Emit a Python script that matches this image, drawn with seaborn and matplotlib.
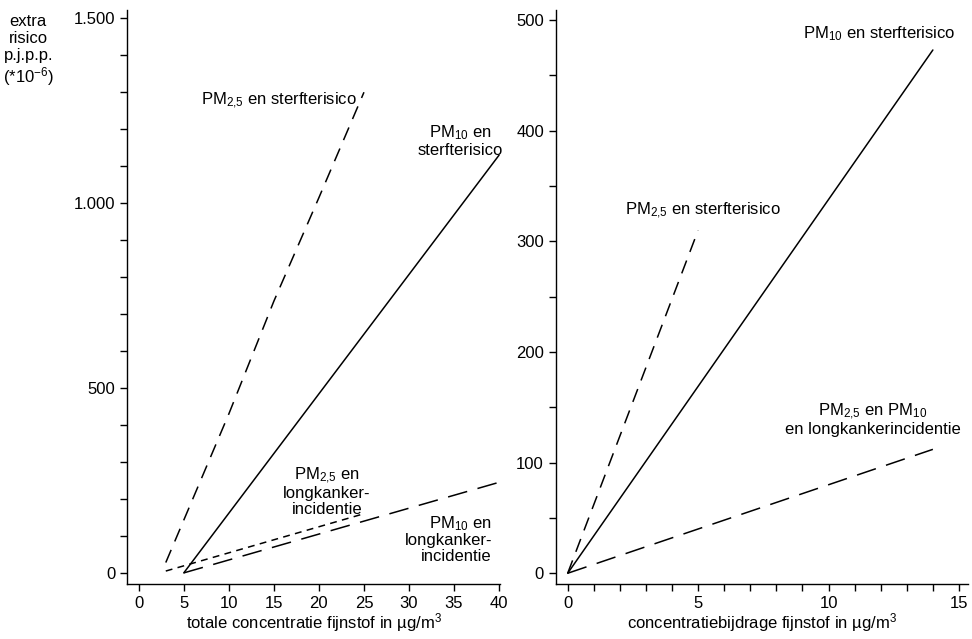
import pandas as pd
import seaborn as sns
import matplotlib.pyplot as plt
from matplotlib.ticker import FuncFormatter, MultipleLocator

# left panel: total concentration (ug/m3) vs extra risk
pm25_mort_x = [3, 10, 15, 20, 25]
pm25_mort_y = [28, 430, 735, 1015, 1300]
pm10_mort_x = [5, 40]
pm10_mort_y = [0, 1130]
pm25_lung_x = [3, 25]
pm25_lung_y = [5, 160]
pm10_lung_x = [5, 40]
pm10_lung_y = [0, 245]

# right panel: concentration contribution vs extra risk
r_pm10_mort_x = [0, 14]
r_pm10_mort_y = [0, 473]
r_pm25_mort_x = [0, 5]
r_pm25_mort_y = [0, 310]
r_lung_x = [0, 14]
r_lung_y = [0, 112]

FONT = ['Liberation Sans Narrow', 'Liberation Sans', 'DejaVu Sans']

sns.set_style("ticks")
plt.rcParams['font.family'] = FONT
plt.rcParams['mathtext.fontset'] = 'custom'
plt.rcParams['mathtext.rm'] = 'Liberation Sans'
plt.rcParams['mathtext.default'] = 'regular'
plt.rcParams['text.color'] = 'black'
plt.rcParams['axes.labelcolor'] = 'black'
plt.rcParams['axes.edgecolor'] = 'black'
plt.rcParams['axes.linewidth'] = 1.0
plt.rcParams['xtick.major.size'] = 5
plt.rcParams['ytick.major.size'] = 5
plt.rcParams['xtick.minor.size'] = 5
plt.rcParams['ytick.minor.size'] = 5


def dotted_thousands(x, _):
    return f'{int(round(x)):,}'.replace(',', '.')


fig = plt.figure(figsize=(9.72, 6.39), dpi=100)
ax1 = fig.add_axes([0.1307, 0.0861, 0.3837, 0.898])
ax2 = fig.add_axes([0.5717, 0.0861, 0.4240, 0.898])

lw = 1.1
sns.lineplot(x=pm25_mort_x, y=pm25_mort_y, ax=ax1, color='black', lw=lw)
ax1.lines[-1].set_dashes([9, 6])
sns.lineplot(x=pm10_mort_x, y=pm10_mort_y, ax=ax1, color='black', lw=lw)
sns.lineplot(x=pm25_lung_x, y=pm25_lung_y, ax=ax1, color='black', lw=lw)
ax1.lines[-1].set_dashes([4.5, 3.5])
sns.lineplot(x=pm10_lung_x, y=pm10_lung_y, ax=ax1, color='black', lw=lw)
ax1.lines[-1].set_dashes([13, 7])

sns.lineplot(x=r_pm10_mort_x, y=r_pm10_mort_y, ax=ax2, color='black', lw=lw)
sns.lineplot(x=r_pm25_mort_x, y=r_pm25_mort_y, ax=ax2, color='black', lw=lw)
ax2.lines[-1].set_dashes([9, 6])
sns.lineplot(x=r_lung_x, y=r_lung_y, ax=ax2, color='black', lw=lw)
ax2.lines[-1].set_dashes([13, 7])

fs = 12
for ax in (ax1, ax2):
    sns.despine(ax=ax)
    ax.tick_params(which='both', labelsize=fs, width=1.0, colors='black')
    ax.set_facecolor('white')

ax1.set_xlim(-1.3, 40.1)
ax1.set_ylim(-30, 1522)
ax1.xaxis.set_major_locator(MultipleLocator(5))
ax1.yaxis.set_major_locator(MultipleLocator(500))
ax1.yaxis.set_minor_locator(MultipleLocator(100))
ax1.yaxis.set_major_formatter(FuncFormatter(dotted_thousands))
ax1.set_xlabel('totale concentratie fijnstof in µg/m$^{3}$', fontsize=fs, labelpad=0)
ax1.set_ylabel('')

ax2.set_xlim(-0.46, 15.34)
ax2.set_ylim(-9.7, 509)
ax2.xaxis.set_major_locator(MultipleLocator(5))
ax2.xaxis.set_minor_locator(MultipleLocator(1))
ax2.yaxis.set_major_locator(MultipleLocator(100))
ax2.yaxis.set_minor_locator(MultipleLocator(50))
ax2.set_xlabel('concentratiebijdrage fijnstof in µg/m$^{3}$', fontsize=fs, labelpad=0)
ax2.set_ylabel('')

fig.text(0.029, 0.978, 'extra\nrisico\np.j.p.p.\n(*10$^{-6}$)', ha='center', va='top',
         fontsize=fs, linespacing=1.15)

# left annotations
ax1.text(24.2, 1278, 'PM$_{2{,}5}$ en sterfterisico', ha='right', va='center', fontsize=fs)
ax1.text(35.7, 1170, 'PM$_{10}$ en\nsterfterisico', ha='center', va='center', fontsize=fs,
         linespacing=1.1)
ax1.text(20.9, 221, 'PM$_{2{,}5}$ en\nlongkanker-\nincidentie', ha='center', va='center',
         fontsize=fs, linespacing=1.05)
ax1.text(39.2, 92, 'PM$_{10}$ en\nlongkanker-\nincidentie', ha='right', va='center',
         fontsize=fs, linespacing=1.05)

# right annotations
ax2.text(11.95, 488, 'PM$_{10}$ en sterfterisico', ha='center', va='center', fontsize=fs)
ax2.text(5.2, 328, 'PM$_{2{,}5}$ en sterfterisico', ha='center', va='center', fontsize=fs)
ax2.text(11.7, 139, 'PM$_{2{,}5}$ en PM$_{10}$\nen longkankerincidentie', ha='center',
         va='center', fontsize=fs, linespacing=1.0)

fig.savefig('out.png', dpi=100, facecolor='white')
